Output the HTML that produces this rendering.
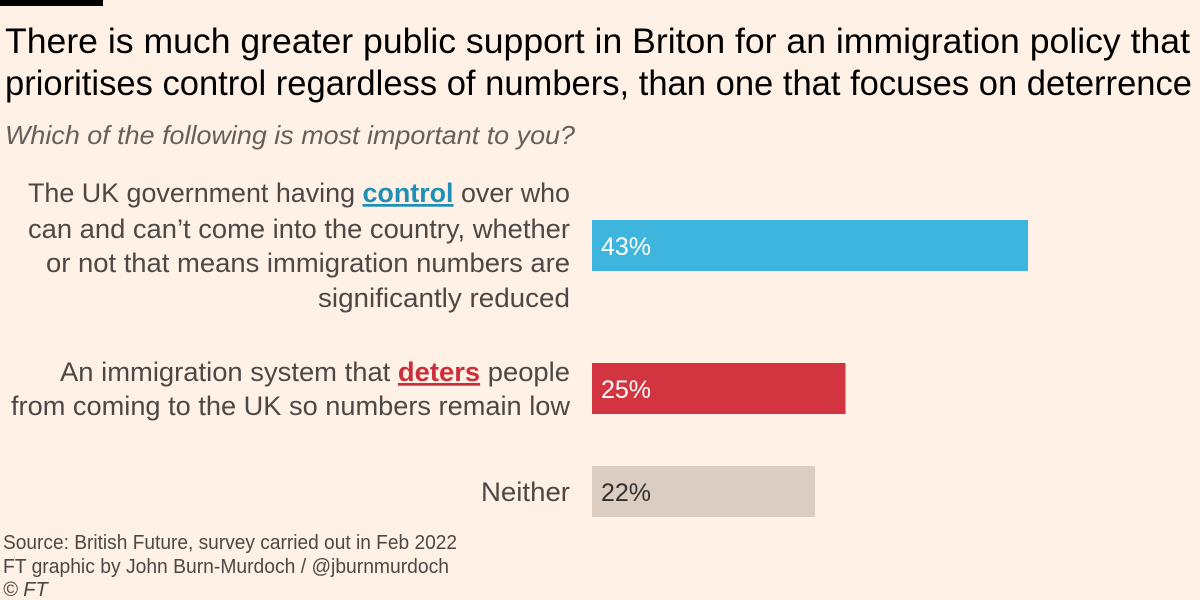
<!DOCTYPE html>
<html><head><meta charset="utf-8"><style>
html,body{margin:0;padding:0;background:#fff1e5;}
svg{display:block;font-family:"Liberation Sans",sans-serif;}
</style></head><body>
<svg id="chart" width="1200" height="600">
<rect x="0" y="0" width="1200" height="600" fill="#fff1e5"/>
<rect x="0" y="0" width="103" height="6" fill="#000"/>
<g fill="#000" font-size="35">
<text x="5" y="53" textLength="1185" lengthAdjust="spacingAndGlyphs">There is much greater public support in Briton for an immigration policy that</text>
<text x="5" y="95" textLength="1187" lengthAdjust="spacingAndGlyphs">prioritises control regardless of numbers, than one that focuses on deterrence</text>
</g>
<text x="5" y="144" font-size="26" font-style="italic" fill="#66605c" textLength="570" lengthAdjust="spacingAndGlyphs">Which of the following is most important to you?</text>
<g fill="#4d4845" font-size="27" text-anchor="end">
<text x="570" y="202" textLength="542" lengthAdjust="spacingAndGlyphs">The UK government having <tspan font-weight="bold" fill="#1f8fb8" text-decoration="underline">control</tspan> over who</text>
<text x="570" y="238" textLength="542" lengthAdjust="spacingAndGlyphs">can and can’t come into the country, whether</text>
<text x="570" y="272" textLength="524" lengthAdjust="spacingAndGlyphs">or not that means immigration numbers are</text>
<text x="570" y="307" textLength="252" lengthAdjust="spacingAndGlyphs">significantly reduced</text>
<text x="570" y="381" textLength="510" lengthAdjust="spacingAndGlyphs">An immigration system that <tspan font-weight="bold" fill="#cc2f3c" text-decoration="underline">deters</tspan> people</text>
<text x="570" y="415" textLength="559" lengthAdjust="spacingAndGlyphs">from coming to the UK so numbers remain low</text>
<text x="570" y="501" textLength="89" lengthAdjust="spacingAndGlyphs">Neither</text>
</g>
<g id="bars"></g>
<g fill="#4d4845" font-size="20">
<text x="3" y="549" textLength="454" lengthAdjust="spacingAndGlyphs">Source: British Future, survey carried out in Feb 2022</text>
<text x="3" y="573" textLength="446" lengthAdjust="spacingAndGlyphs">FT graphic by John Burn-Murdoch / @jburnmurdoch</text>
<text x="3" y="596" font-style="italic">© FT</text>
</g>
</svg>
<script>
const categories = ["control", "deters", "neither"];
const values = [43, 25, 22];
const valueLabels = ["43%", "25%", "22%"];
const colors = ["#3db5dd", "#d23440", "#dbcdc2"];
const labelColors = ["#ffffff", "#ffffff", "#33302e"];
const barTops = [220, 363, 466];
const x0 = 592, pxPer = 10.14, barH = 51;
function xScale(v){ return x0 + v * pxPer; }
const g = document.getElementById('bars');
const ns = "http://www.w3.org/2000/svg";
for (let i = 0; i < values.length; i++) {
  const r = document.createElementNS(ns, 'rect');
  r.setAttribute('x', x0);
  r.setAttribute('y', barTops[i]);
  r.setAttribute('width', xScale(values[i]) - x0);
  r.setAttribute('height', barH);
  r.setAttribute('fill', colors[i]);
  
  
  g.appendChild(r);
  const t = document.createElementNS(ns, 'text');
  t.setAttribute('x', x0 + 9);
  t.setAttribute('y', barTops[i] + 35);
  t.setAttribute('font-size', '25');
  t.setAttribute('fill', labelColors[i]);
  t.textContent = valueLabels[i];
  
  
  g.appendChild(t);
}
</script>
</body></html>
